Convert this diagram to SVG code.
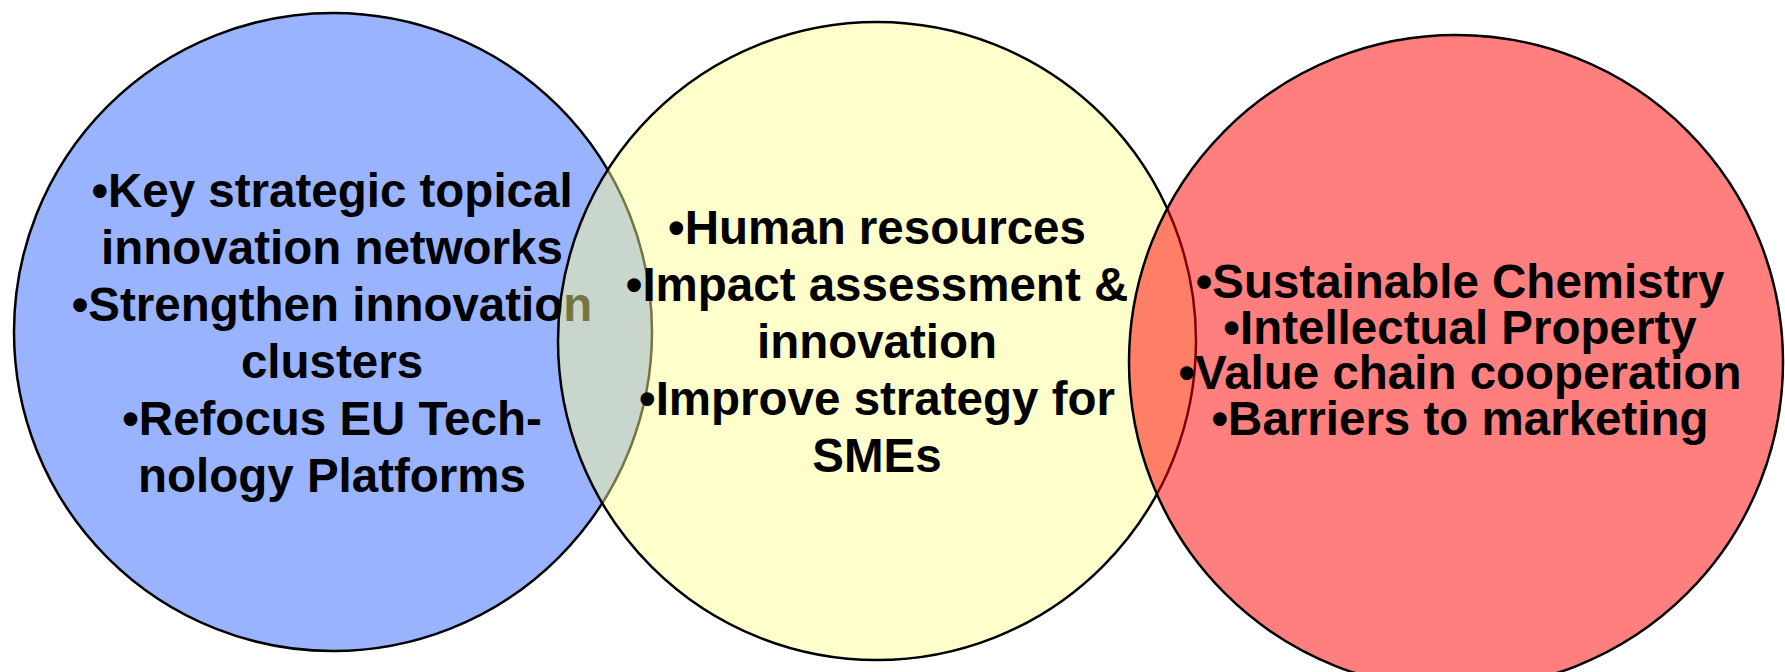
<svg xmlns="http://www.w3.org/2000/svg" width="1785" height="672" viewBox="0 0 1785 672">
<style>
.c{stroke:#000;stroke-width:2.5}
.t{font-family:"Liberation Sans",Arial,sans-serif;font-weight:bold;font-size:47.5px;fill:#000;text-anchor:middle}
</style>
<rect width="1785" height="672" fill="#fff"/>
<g id="blue">
<circle class="c" cx="333" cy="332" r="319" fill="#99B3FF"/>
<text class="t" x="332" y="207">•Key strategic topical</text>
<text class="t" x="332" y="264">innovation networks</text>
<text class="t" x="332" y="321">•Strengthen innovation</text>
<text class="t" x="332" y="378">clusters</text>
<text class="t" x="332" y="435">•Refocus EU Tech-</text>
<text class="t" x="332" y="492">nology Platforms</text>
</g>
<g id="yellow">
<circle class="c" cx="877" cy="341" r="319" fill="#FFFF90" fill-opacity="0.46"/>
<text class="t" x="877" y="244">•Human resources</text>
<text class="t" x="877" y="301">•Impact assessment &amp;</text>
<text class="t" x="877" y="358">innovation</text>
<text class="t" x="877" y="415">•Improve strategy for</text>
<text class="t" x="877" y="472">SMEs</text>
</g>
<g id="red">
<circle class="c" cx="1456" cy="362" r="327" fill="#FF0000" fill-opacity="0.5"/>
<text class="t" x="1460" y="298">•Sustainable Chemistry</text>
<text class="t" x="1460" y="343.5">•Intellectual Property</text>
<text class="t" x="1460" y="389">•Value chain cooperation</text>
<text class="t" x="1460" y="434.5">•Barriers to marketing</text>
</g>
<g id="connectors"/>
</svg>
